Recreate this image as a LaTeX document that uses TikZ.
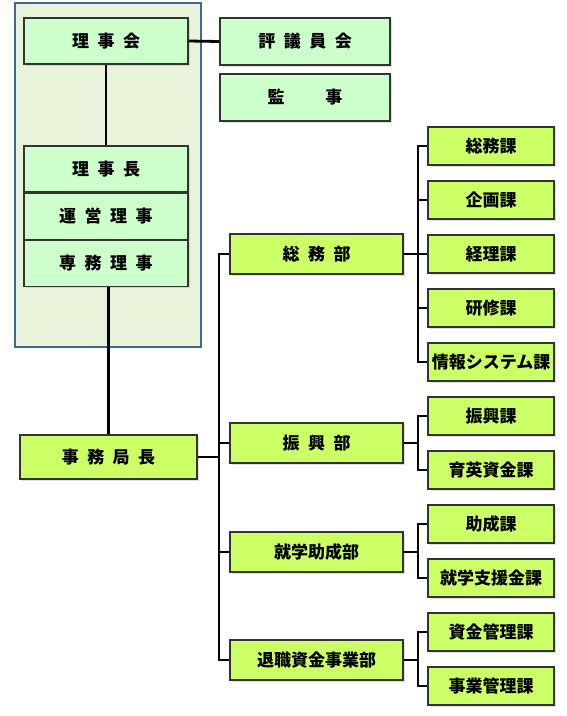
\documentclass[tikz,border=0pt]{standalone}
\usepackage{fontspec}
\setmainfont{Noto Sans CJK JP}
\usetikzlibrary{positioning, shadows}
\definecolor{paleg}{HTML}{CCFFCC}
\definecolor{limeg}{HTML}{CCFF66}
\definecolor{framebl}{HTML}{41679A}
\definecolor{hatchg}{HTML}{E8F3DA}
\newcommand{\js}{\hspace{.5em}}
\tikzset{
    board/.style={draw=black!80, line width=1.1pt, fill=paleg, minimum width=164pt, minimum height=46pt, inner sep=0pt,
        font=\bfseries\fontsize{17}{19}\selectfont, drop shadow={shadow xshift=1.5pt, shadow yshift=-1.5pt, opacity=.25}},
    bu/.style={board, fill=limeg, minimum width=173pt, minimum height=40pt},
    ka/.style={board, fill=limeg, minimum width=126pt, minimum height=38pt},
    link/.style={line width=2.8pt}
}

\begin{document}
\begin{tikzpicture}[x=1pt, y=-1pt]
    \useasboundingbox (0,0) rectangle (567,716);
    \draw[framebl, line width=1.5pt, fill=hatchg] (15,3) rectangle (201,347);

    \node[board] (rijikai) at (106,41) {理\js 事\js 会};
    \node[board, minimum width=170pt, minimum height=47pt] (hyogi) at (305,41.5) {評\js 議\js 員\js 会};
    \node[board, minimum width=170pt, minimum height=47pt] (kanji) at (305,97.5) {監\hspace{2.4em}事};
    \node[board] (rijicho) at (106,169) {理\js 事\js 長};
    \node[board, below=0pt of rijicho] (unei) {運\js 営\js 理\js 事};
    \node[board, below=0pt of unei] (senmu) {専\js 務\js 理\js 事};
    \node[bu, minimum width=177pt, minimum height=44pt] (jimu) at (108.5,457) {事\js 務\js 局\js 長};

    \node[bu] (somu) at (316.5,254) {総\js 務\js 部};
    \node[bu] (shinko) at (316.5,443) {振\js 興\js 部};
    \node[bu] (shugaku) at (316.5,552) {就学助成部};
    \node[bu] (taishoku) at (316.5,660) {退職資金事業部};

    \node[ka] (somuka) at (491,146) {総務課};
    \node[ka] (kikaku) at (491,200) {企画課};
    \node[ka] (keiri) at (491,254) {経理課};
    \node[ka] (kenshu) at (491,308) {研修課};
    \node[ka] (joho) at (491,362) {情報システム課};
    \node[ka] (shinkoka) at (491,416) {振興課};
    \node[ka] (ikuei) at (491,470) {育英資金課};
    \node[ka] (josei) at (491,524) {助成課};
    \node[ka] (shien) at (491,578) {就学支援金課};
    \node[ka] (shikin) at (491,632) {資金管理課};
    \node[ka] (jigyo) at (491,686) {事業管理課};

    \coordinate (trunk) at (219,0);
    \coordinate (sub) at (418,0);

    % upper part
    \draw[link] (rijikai.east) -- (hyogi.west);
    \draw[link] (rijikai.south) -- (rijicho.north);
    \draw[link] (jimu.north) -- (jimu.north |- senmu.south);

    % departments
    \draw[link] (jimu.east) -- (jimu.east -| trunk);
    \draw[link] (somu.west) -| (trunk |- taishoku.west) -- (taishoku.west);
    \draw[link] (shinko.west) -- (shinko.west -| trunk);
    \draw[link] (shugaku.west) -- (shugaku.west -| trunk);

    % sections
    \draw[link] (somu.east) -- (somu.east -| sub);
    \draw[link] (somuka.west) -| (sub |- joho.west) -- (joho.west);
    \draw[link] (kikaku.west) -- (kikaku.west -| sub);
    \draw[link] (keiri.west) -- (keiri.west -| sub);
    \draw[link] (kenshu.west) -- (kenshu.west -| sub);
    \draw[link] (shinko.east) -- (shinko.east -| sub);
    \draw[link] (shinkoka.west) -| (sub |- ikuei.west) -- (ikuei.west);
    \draw[link] (shugaku.east) -- (shugaku.east -| sub);
    \draw[link] (josei.west) -| (sub |- shien.west) -- (shien.west);
    \draw[link] (taishoku.east) -- (taishoku.east -| sub);
    \draw[link] (shikin.west) -| (sub |- jigyo.west) -- (jigyo.west);
\end{tikzpicture}
\end{document}
